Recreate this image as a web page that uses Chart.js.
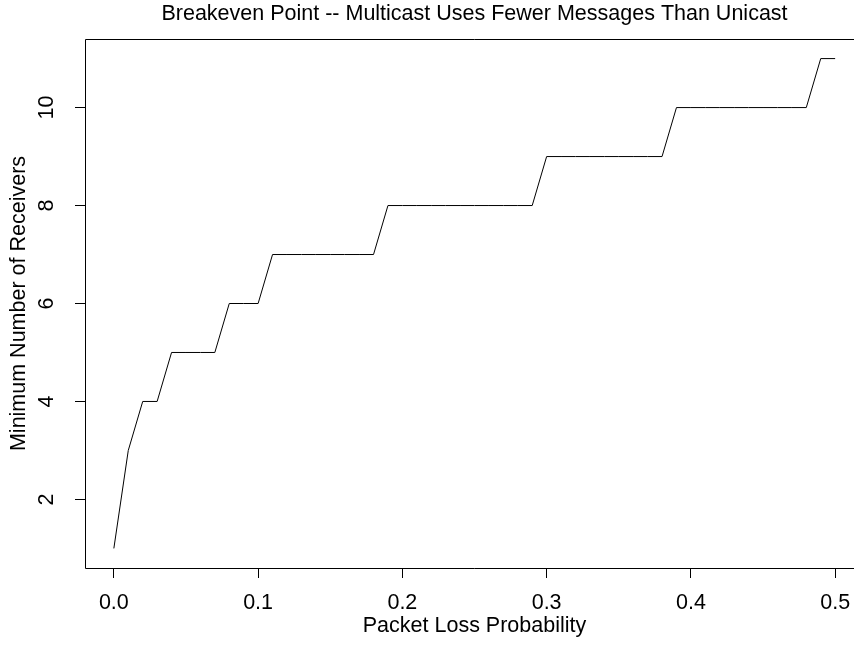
<!DOCTYPE html>
<html>
<head>
<meta charset="utf-8">
<script src="https://cdn.jsdelivr.net/npm/chart.js@4.4.1/dist/chart.umd.min.js"></script>
<style>
  html, body { margin: 0; padding: 0; background: #fff; overflow: hidden; }
  #wrap { position: absolute; left: 0; top: 0; width: 854px; height: 647px; overflow: hidden; }
  #myChart { display: block; }
</style>
</head>
<body>
<div id="wrap"><canvas id="myChart" width="880" height="647"></canvas></div>
<script>
// packet loss probability (x) and minimum number of receivers (y)
var lossProb = [0.00, 0.01, 0.02, 0.03, 0.04, 0.05, 0.06, 0.07, 0.08, 0.09,
                0.10, 0.11, 0.12, 0.13, 0.14, 0.15, 0.16, 0.17, 0.18, 0.19,
                0.20, 0.21, 0.22, 0.23, 0.24, 0.25, 0.26, 0.27, 0.28, 0.29,
                0.30, 0.31, 0.32, 0.33, 0.34, 0.35, 0.36, 0.37, 0.38, 0.39,
                0.40, 0.41, 0.42, 0.43, 0.44, 0.45, 0.46, 0.47, 0.48, 0.49,
                0.50];
var minReceivers = [1, 3, 4, 4, 5, 5, 5, 5, 6, 6,
                    6, 7, 7, 7, 7, 7, 7, 7, 7, 8,
                    8, 8, 8, 8, 8, 8, 8, 8, 8, 8,
                    9, 9, 9, 9, 9, 9, 9, 9, 9, 10,
                    10, 10, 10, 10, 10, 10, 10, 10, 10, 11,
                    11];
var xTicks = [0, 0.1, 0.2, 0.3, 0.4, 0.5];
var xTickLabels = ["0.0", "0.1", "0.2", "0.3", "0.4", "0.5"];
var yTicks = [2, 4, 6, 8, 10];

var chartTitle = "Breakeven Point -- Multicast Uses Fewer Messages Than Unicast";
var xTitle = "Packet Loss Probability";
var yTitle = "Minimum Number of Receivers";

Chart.defaults.font.family = "'Liberation Sans', Arial, Helvetica, sans-serif";
Chart.defaults.color = "#000";

var points = [];
for (var i = 0; i < lossProb.length; i++) {
  points.push({ x: lossProb[i], y: minReceivers[i] });
}

// box (right side is off the page), rotated y labels and main title, R style
var rDecor = {
  id: "rDecor",
  afterDraw: function(chart) {
    var ctx = chart.ctx;
    var a = chart.chartArea;
    var ys = chart.scales.y;
    var l = Math.round(a.left) + 0.5, t = Math.round(a.top) + 0.5, b = Math.round(a.bottom) + 0.5;
    ctx.save();
    ctx.strokeStyle = "#000";
    ctx.lineWidth = 1;
    ctx.beginPath();
    ctx.moveTo(a.right, t);
    ctx.lineTo(l, t);
    ctx.lineTo(l, b);
    ctx.lineTo(a.right, b);
    ctx.stroke();

    ctx.fillStyle = "#000";
    ctx.font = "21.5px 'Liberation Sans', Arial, sans-serif";
    ctx.textAlign = "center";
    ctx.textBaseline = "middle";
    yTicks.forEach(function(v) {
      ctx.save();
      ctx.translate(47, ys.getPixelForValue(v));
      ctx.rotate(-Math.PI / 2);
      ctx.fillText(String(v), 0, 0);
      ctx.restore();
    });

    ctx.fillText(chartTitle, (a.left + a.right) / 2, 14);
    ctx.restore();
  }
};

var ctx = document.getElementById("myChart").getContext("2d");
var myChart = new Chart(ctx, {
  type: "line",
  data: {
    datasets: [{
      label: "Breakeven",
      data: points,
      borderColor: "#000",
      borderWidth: 1,
      pointRadius: 0,
      tension: 0,
      fill: false
    }]
  },
  options: {
    responsive: false,
    animation: false,
    layout: { padding: { top: 39, left: 0, right: 16, bottom: 0 } },
    plugins: {
      legend: { display: false },
      title: { display: false },
      tooltip: { enabled: false }
    },
    scales: {
      x: {
        type: "linear",
        min: -0.02,
        max: 0.52,
        afterBuildTicks: function(scale) {
          scale.ticks = xTicks.map(function(v) { return { value: v }; });
        },
        afterFit: function(scale) { scale.height = 79; },
        grid: { drawOnChartArea: false, drawTicks: true, tickLength: 10, color: "#000" },
        border: { display: false },
        ticks: {
          font: { size: 21.5 },
          padding: 12,
          maxRotation: 0,
          callback: function(v, idx) { return xTickLabels[idx]; }
        },
        title: { display: true, text: xTitle, font: { size: 21.5 }, padding: { top: 0, bottom: 8 } }
      },
      y: {
        type: "linear",
        min: 0.6,
        max: 11.4,
        afterBuildTicks: function(scale) {
          scale.ticks = yTicks.map(function(v) { return { value: v }; });
        },
        afterFit: function(scale) { scale.width = 85; },
        grid: { drawOnChartArea: false, drawTicks: true, tickLength: 10, color: "#000" },
        border: { display: false },
        ticks: { display: false },
        title: { display: true, text: yTitle, font: { size: 21.5 }, padding: { top: 6.5, bottom: 0 } }
      }
    }
  },
  plugins: [rDecor]
});
</script>
</body>
</html>
